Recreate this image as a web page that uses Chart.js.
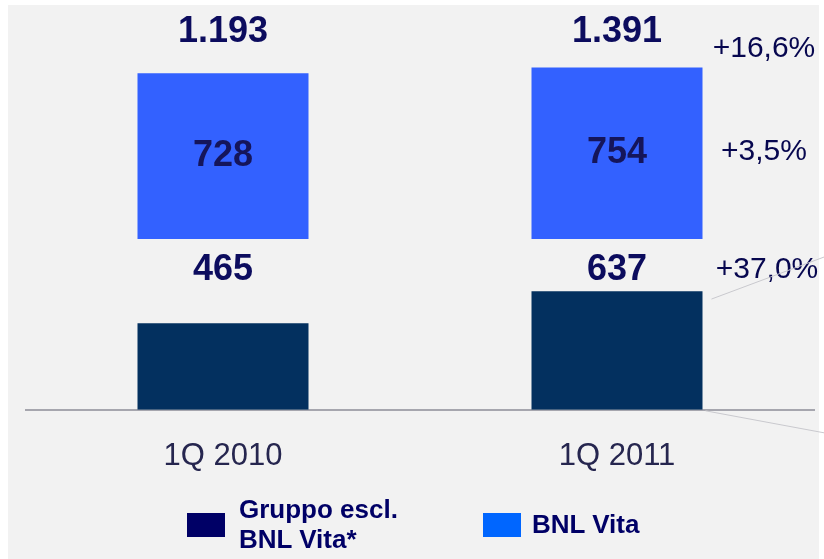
<!DOCTYPE html>
<html>
<head>
<meta charset="utf-8">
<script src="https://cdn.jsdelivr.net/npm/chart.js@4.4.1/dist/chart.umd.min.js"></script>
<style>
  body { margin: 0; background: #fff; }
  #wrap { position: relative; width: 824px; height: 559px; overflow: hidden; }
  #panel { position: absolute; left: 8px; top: 5px; width: 811px; height: 554px; background: #f2f2f2; }
  #chart { position: absolute; left: 0; top: 0; }
  .lg-item { position: absolute; font: bold 26px 'Liberation Sans', Arial, sans-serif; line-height: 30px;
             color: #000066; white-space: pre-line; }
  .lg-sw { position: absolute; width: 38px; height: 24px; }
</style>
</head>
<body>
<div id="wrap">
  <div id="panel"></div>
  <canvas id="chart" width="824" height="503"></canvas>
  <div id="legend"></div>
</div>
<script>
// ─── Dati (milioni di euro) ───
const categories = ['1Q 2010', '1Q 2011'];
const seriesNames = ['Gruppo escl.\nBNL Vita*', 'BNL Vita'];
const gruppoEscl = [465, 637];
const bnlVita = [728, 754];
const changeLabels = ['+16,6%', '+3,5%', '+37,0%'];   // totale, BNL Vita, gruppo escl.

const FONT = "'Liberation Sans', Arial, sans-serif";
const DARK = '#03305f';
const BLUE = '#3361ff';
const SWATCH = ['#000066', '#0066ff'];
const NAVY = '#0c0c5e';

function fmt(n) {
    return String(n).replace(/\B(?=(\d{3})+(?!\d))/g, '.');
}

// ─── Etichette valori / variazioni ───
const labelPlugin = {
    id: 'valueLabels',
    afterDatasetsDraw(chart) {
        const ctx = chart.ctx;
        const dark = chart.getDatasetMeta(0).data;
        const blue = chart.getDatasetMeta(1).data;
        const totalRow = Math.min(...blue.map(b => b.y)) - 35;
        const darkRow = blue[0].base + 31;

        ctx.save();
        ctx.textAlign = 'center';
        ctx.textBaseline = 'middle';

        categories.forEach((c, i) => {
            const b = blue[i], d = dark[i];
            ctx.font = 'bold 36px ' + FONT;
            ctx.fillStyle = NAVY;
            ctx.fillText(fmt(gruppoEscl[i] + bnlVita[i]), b.x, totalRow);
            ctx.fillText(fmt(gruppoEscl[i]), d.x, darkRow);
            ctx.fillStyle = '#15155a';
            ctx.fillText(fmt(bnlVita[i]), b.x, (b.y + b.base) / 2);
        });

        // variazioni a destra
        const px = chart.chartArea.right - 50;
        const last = blue[blue.length - 1];
        ctx.font = '30px ' + FONT;
        ctx.fillStyle = '#07074f';
        ctx.fillText(changeLabels[0], px, totalRow + 16);
        ctx.fillText(changeLabels[1], px, (last.y + last.base) / 2 - 1);
        ctx.fillText(changeLabels[2], px + 3, darkRow);

        // linee sottili grigie
        const dl = dark[dark.length - 1];
        const right = dl.x + dl.width / 2;
        ctx.strokeStyle = '#c9c9ce';
        ctx.lineWidth = 1;
        ctx.beginPath();
        ctx.moveTo(right + 9, darkRow + 29);
        ctx.lineTo(chart.width, darkRow - 13);
        ctx.moveTo(right + 3, dl.base + 1);
        ctx.lineTo(chart.width, dl.base + 23);
        ctx.stroke();
        ctx.restore();
    }
};

const chart = new Chart(document.getElementById('chart').getContext('2d'), {
    type: 'bar',
    data: {
        labels: categories,
        datasets: [{
            label: seriesNames[0],
            data: gruppoEscl,
            backgroundColor: DARK,
            yAxisID: 'yD',
            grouped: false,
            barPercentage: 0.434,
            categoryPercentage: 1
        }, {
            label: seriesNames[1],
            data: bnlVita,
            backgroundColor: BLUE,
            yAxisID: 'yB',
            grouped: false,
            barPercentage: 0.434,
            categoryPercentage: 1
        }]
    },
    options: {
        responsive: false,
        animation: false,
        layout: { padding: { left: 26, right: 10, top: 0, bottom: 0 } },
        plugins: {
            legend: { display: false },
            tooltip: { enabled: false }
        },
        scales: {
            x: {
                grid: { display: false, drawTicks: false },
                border: { display: true, color: '#a6a6ae', width: 2 },
                ticks: { color: '#26264f', font: { family: FONT, size: 31 }, padding: 28 }
            },
            yD: { display: false, min: 0, max: 2200 },
            yB: { display: false, min: -750, max: 1050 }
        }
    },
    plugins: [labelPlugin]
});

// ─── Legenda HTML ───
const legendPos = [{ sw: [187, 513], tx: [239, 494] }, { sw: [483, 513], tx: [532, 509] }];
const legendEl = document.getElementById('legend');
chart.data.datasets.forEach((ds, i) => {
    const sw = document.createElement('div');
    sw.className = 'lg-sw';
    sw.style.left = legendPos[i].sw[0] + 'px';
    sw.style.top = legendPos[i].sw[1] + 'px';
    sw.style.background = SWATCH[i];
    const tx = document.createElement('div');
    tx.className = 'lg-item';
    tx.style.left = legendPos[i].tx[0] + 'px';
    tx.style.top = legendPos[i].tx[1] + 'px';
    tx.textContent = ds.label;
    legendEl.appendChild(sw);
    legendEl.appendChild(tx);
});
</script>
</body>
</html>
